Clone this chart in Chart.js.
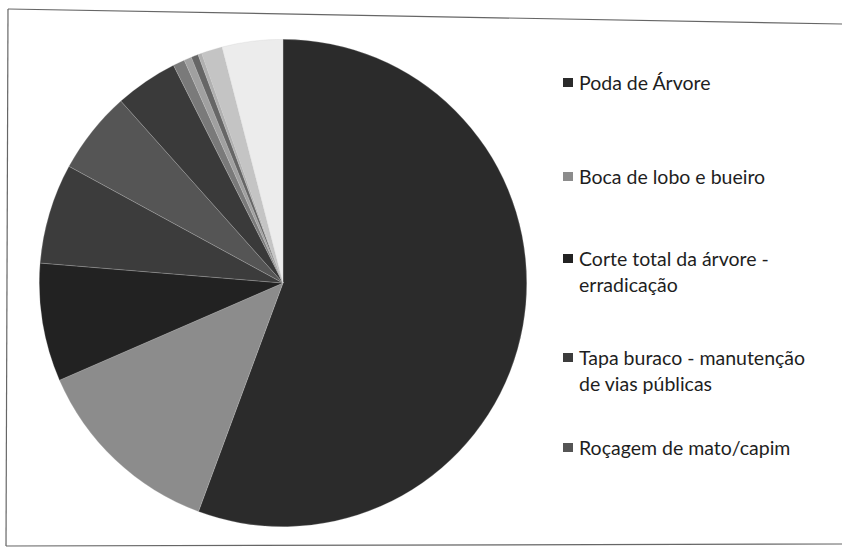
<!DOCTYPE html>
<html>
<head>
<meta charset="utf-8">
<script src="https://cdn.jsdelivr.net/npm/chart.js@4/dist/chart.umd.min.js"></script>
<style>
  body { margin: 0; background: #fff; width: 842px; height: 557px; overflow: hidden; position: relative; font-family: Lato, 'Open Sans', sans-serif; }
  #frame { position: absolute; left: 0; top: 0; }
  #pieBox { position: absolute; left: 39px; top: 39px; width: 488px; height: 488px; }
  #legend { position: absolute; left: 563px; top: 0; color: #1e1e1e; font-size: 19.5px; line-height: 26px; }
  .item { position: absolute; left: 0; white-space: nowrap; }
  .item i { display: inline-block; width: 10px; height: 9px; margin: 8px 6px 0 0; vertical-align: top; }
  .item span { display: inline-block; vertical-align: top; }
</style>
</head>
<body>
<svg id="frame" width="842" height="557">
  <line x1="8" y1="9" x2="842" y2="24" stroke="#666" stroke-width="1.2"/>
  <line x1="8" y1="9" x2="6" y2="546" stroke="#666" stroke-width="1.2"/>
  <line x1="6" y1="546" x2="842" y2="544" stroke="#666" stroke-width="1.2"/>
</svg>
<div id="pieBox"><canvas id="pie"></canvas></div>
<div id="legend"></div>
<script>
// categories (only the first five are named in the legend of the original)
const categories = [
  'Poda de Árvore',
  'Boca de lobo e bueiro',
  'Corte total da árvore - erradicação',
  'Tapa buraco - manutenção de vias públicas',
  'Roçagem de mato/capim',
  'Outro 1', 'Outro 2', 'Outro 3', 'Outro 4', 'Outro 5', 'Outro 6', 'Outro 7'
];
// slice sizes (degrees of the circle)
const values = [200.3, 46.2, 28.2, 23.9, 19.7, 15.0, 2.8, 1.8, 1.7, 0.9, 5.0, 14.5];
const sliceColors = ['#2b2b2b', '#8c8c8c', '#222222', '#3c3c3c', '#555555', '#3a3a3a',
  '#7a7a7a', '#a0a0a0', '#666666', '#b0b0b0', '#c4c4c4', '#ececec'];
const legendLines = [
  ['Poda de Árvore'],
  ['Boca de lobo e bueiro'],
  ['Corte total da árvore -', 'erradicação'],
  ['Tapa buraco - manutenção', 'de vias públicas'],
  ['Roçagem de mato/capim']
];
const legendTops = [70, 164, 246, 345, 435];

new Chart(document.getElementById('pie'), {
  type: 'pie',
  data: {
    labels: categories,
    datasets: [{
      data: values,
      backgroundColor: sliceColors,
      borderColor: 'rgba(200,200,200,0.5)',
      borderWidth: 0.5
    }]
  },
  options: {
    responsive: true,
    maintainAspectRatio: false,
    animation: false,
    layout: { padding: 0 },
    plugins: {
      legend: { display: false },
      tooltip: { enabled: false }
    }
  }
});

// legend, first five entries
const legend = document.getElementById('legend');
legendLines.forEach((lines, i) => {
  const div = document.createElement('div');
  div.className = 'item';
  div.style.top = legendTops[i] + 'px';
  div.innerHTML = `<i style="background:${sliceColors[i]}"></i><span>${lines.join('<br>')}</span>`;
  legend.appendChild(div);
});
</script>
</body>
</html>
